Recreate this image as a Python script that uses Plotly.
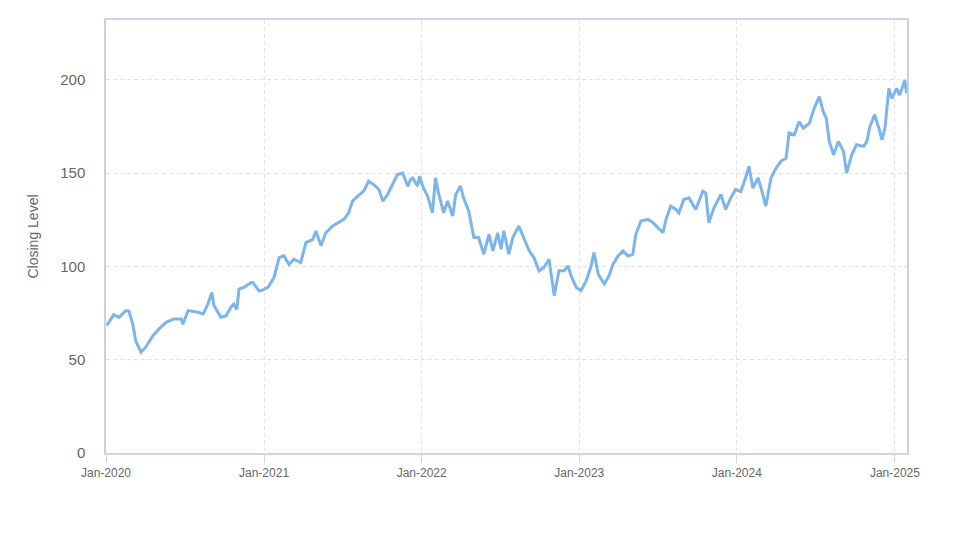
import plotly.graph_objects as go

dates = [
    "2020-01-03","2020-01-19","2020-01-31","2020-02-16","2020-02-23","2020-03-03","2020-03-10","2020-03-22",
    "2020-04-02","2020-04-19","2020-05-03","2020-05-19","2020-06-06","2020-06-23","2020-06-27","2020-07-09",
    "2020-08-01","2020-08-13","2020-08-24","2020-09-02","2020-09-07","2020-09-23","2020-10-05","2020-10-16",
    "2020-10-23","2020-10-30","2020-11-04","2020-11-15","2020-12-02","2020-12-06","2020-12-20","2020-12-25",
    "2021-01-10","2021-01-24","2021-02-05","2021-02-16","2021-02-28","2021-03-11","2021-03-27","2021-04-08",
    "2021-04-24","2021-05-01","2021-05-13","2021-05-24","2021-06-09","2021-06-23","2021-07-05","2021-07-16",
    "2021-07-25","2021-08-06","2021-08-20","2021-08-31","2021-09-12","2021-09-24","2021-10-03","2021-10-14",
    "2021-10-26","2021-11-06","2021-11-18","2021-11-30","2021-12-06","2021-12-11","2021-12-23","2021-12-27",
    "2022-01-05","2022-01-15","2022-01-26","2022-02-02","2022-02-09","2022-02-21","2022-03-02","2022-03-14",
    "2022-03-21","2022-04-01","2022-04-08","2022-04-20","2022-05-02","2022-05-13","2022-05-25","2022-06-06",
    "2022-06-15","2022-06-26","2022-07-04","2022-07-10","2022-07-22","2022-07-31","2022-08-14","2022-08-26",
    "2022-09-07","2022-09-18","2022-09-30","2022-10-11","2022-10-23","2022-11-04","2022-11-15","2022-11-27",
    "2022-12-06","2022-12-13","2022-12-25",
    "2023-01-05","2023-01-17","2023-01-28","2023-02-04","2023-02-14","2023-02-28","2023-03-11","2023-03-20",
    "2023-04-01","2023-04-12","2023-04-24","2023-05-05","2023-05-12","2023-05-24","2023-06-09","2023-06-21",
    "2023-07-02","2023-07-14","2023-07-21","2023-08-01","2023-08-13","2023-08-20","2023-08-31","2023-09-12",
    "2023-09-28","2023-10-14","2023-10-21","2023-10-28","2023-11-09","2023-11-25","2023-12-06","2023-12-18",
    "2023-12-29",
    "2024-01-10","2024-01-22","2024-01-29","2024-02-07","2024-02-19","2024-02-26","2024-03-08","2024-03-20",
    "2024-04-01","2024-04-12","2024-04-24","2024-05-01","2024-05-13","2024-05-24","2024-06-03","2024-06-17",
    "2024-06-28","2024-07-10","2024-07-19","2024-07-26","2024-08-02","2024-08-12","2024-08-23","2024-09-04",
    "2024-09-11","2024-09-23","2024-10-04","2024-10-21","2024-10-28","2024-11-04","2024-11-15","2024-11-25",
    "2024-12-02","2024-12-09","2024-12-18","2024-12-25",
    "2025-01-05","2025-01-12","2025-01-24","2025-01-28",
]

closing = [
    68.3, 74.1, 72.7, 76.3, 76.0, 69.0, 60.0, 54.0,
    56.7, 63.0, 66.5, 70.0, 71.8, 71.8, 69.0, 76.3,
    75.4, 74.5, 79.8, 86.0, 79.0, 72.7, 73.6, 78.0,
    79.8, 77.0, 87.8, 88.7, 91.4, 91.4, 87.0, 87.0,
    88.7, 94.0, 104.7, 105.6, 101.0, 103.8, 102.0, 112.7,
    114.5, 119.0, 111.0, 118.0, 121.6, 123.4, 125.2, 128.7,
    135.0, 137.6, 140.3, 145.6, 143.8, 141.2, 135.0, 138.5,
    143.8, 149.2, 150.0, 143.0, 146.5, 147.4, 143.0, 148.3,
    142.0, 137.6, 128.7, 147.4, 139.4, 128.7, 135.0, 127.0,
    138.5, 143.0, 136.7, 129.6, 115.4, 115.4, 106.5, 117.2,
    108.3, 118.0, 109.2, 119.0, 106.5, 115.4, 121.6, 115.4,
    108.3, 104.7, 97.6, 99.4, 103.8, 84.3, 97.6, 97.6,
    100.3, 95.0, 88.7,
    87.0, 92.3, 99.8, 107.4, 95.8, 90.5, 95.0, 101.0,
    105.6, 108.3, 105.6, 106.5, 117.2, 124.3, 125.2, 123.4,
    120.7, 118.0, 125.2, 132.3, 130.5, 128.7, 135.8, 136.7,
    130.5, 140.3, 139.4, 123.4, 131.4, 138.5, 130.5, 136.7,
    141.2,
    140.0, 148.0, 153.6, 142.0, 147.4, 142.0, 132.3, 147.4,
    152.7, 156.3, 158.0, 171.4, 170.5, 177.6, 174.0, 176.7,
    184.7, 190.9, 182.9, 179.4, 166.9, 159.8, 166.9, 161.6,
    150.0, 159.8, 165.2, 164.3, 166.9, 174.9, 181.2, 174.0,
    167.8, 174.0, 195.4, 190.0,
    195.4, 191.8, 199.8, 192.7,
]

x_tickvals = ["2020-01-01", "2021-01-01", "2022-01-01", "2023-01-01", "2024-01-01", "2025-01-01"]
x_ticktext = ["Jan-2020", "Jan-2021", "Jan-2022", "Jan-2023", "Jan-2024", "Jan-2025"]
y_tickvals = [0, 50, 100, 150, 200]

fig = go.Figure()
fig.add_trace(go.Scatter(
    x=dates, y=closing, mode="lines",
    line=dict(color="#7cb5ec", width=3),
    showlegend=False, hoverinfo="x+y",
))

fig.update_layout(
    width=965, height=539,
    margin=dict(l=98, r=66, t=10, b=94),
    paper_bgcolor="white", plot_bgcolor="white",
    font=dict(family="Liberation Sans, Arial, sans-serif", color="#666666"),
)
fig.update_xaxes(
    type="date", range=["2020-01-01", "2025-01-29"],
    tickvals=x_tickvals, ticktext=x_ticktext,
    tickfont=dict(size=12, color="#666666"),
    showgrid=True, gridcolor="#e3e3e3", griddash="4px,3px", gridwidth=1,
    showline=True, linecolor="#ccd6eb", linewidth=1.5, mirror=True,
    ticks="outside", ticklen=8, tickcolor="#ccd6eb", tickwidth=1,
    zeroline=False,
)
fig.update_yaxes(
    range=[0, 232], tickvals=y_tickvals,
    tickfont=dict(size=15, color="#666666"),
    showgrid=True, gridcolor="#e3e3e3", griddash="4px,3px", gridwidth=1,
    showline=True, linecolor="#ccd0d8", linewidth=1.5, mirror=True,
    ticks="", ticklabelstandoff=16,
    zeroline=False,
    title=dict(text="Closing Level", font=dict(size=14, color="#666666"), standoff=18),
)

fig.write_html("out.html")
